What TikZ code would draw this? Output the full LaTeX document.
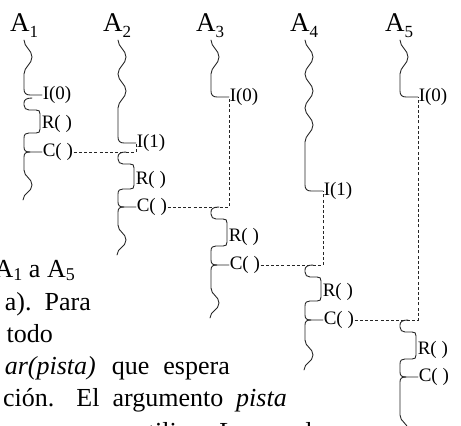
\documentclass[tikz,border=0pt]{standalone}
\usepackage{fontspec}
\setmainfont{Liberation Serif}
\newcommand\sub[3]{\raisebox{#1}{\fontsize{#2}{#2}\selectfont #3}}
% #1 id, #2 x, #3 yI, #4 yS, #5 yR, #6 yC, #7 yE, #8 waves, #9 I label
\newcommand\drawthread[9]{%
  \draw[thr] (#2,40) \foreach \w in {1,...,#8}{ .. controls +(0,7) and +(0,-7) .. ++(8,17) .. controls +(0,7) and +(0,-7) .. ++(-8,17) }
     -- (#2,#3-6) .. controls (#2,#3-2) and (#2+2,#3) .. (#2+6,#3) -- (#2+18,#3) coordinate (it#1);
  \node[ev] (I#1) at (#2+18,#3) {#9};
  \draw[thr] (#2+8,#4) coordinate (top#1) .. controls (#2+2,#4) and (#2,#4+2) .. (#2,#4+5) -- (#2,#4+7)
     .. controls (#2,#4+10) and (#2+2,#4+12) .. (#2+5,#4+12) -- (#2+12,#4+12)
     .. controls (#2+15,#4+12) and (#2+16,#4+13) .. (#2+16,#4+16) -- (#2+16,#5+5)
     .. controls (#2+16,#5+8) and (#2+15,#5+9) .. (#2+12,#5+9) -- (#2+5,#5+9)
     .. controls (#2+2,#5+9) and (#2,#5+10) .. (#2,#5+14) -- (#2,#6-5)
     .. controls (#2,#6-1) and (#2+2,#6) .. (#2+6,#6) -- (#2+18,#6) coordinate (ct#1);
  \node[ev] (R#1) at (#2+17,#5) {R( )};
  \node[ev] (C#1) at (#2+18,#6) {C( )};
  \draw[thr] (#2+6,#6) .. controls (#2+2,#6) and (#2,#6+1) .. (#2,#6+5) -- (#2,#7-30)
     .. controls +(0,7) and +(0,-7) .. ++(8,15) .. controls +(0,7) and +(0,-7) .. (#2-1,#7);
}
\begin{document}
\begin{tikzpicture}[x=1pt,y=-1pt,
  thr/.style={line width=0.9pt, black!85, line cap=round, line join=round},
  msg/.style={line width=0.8pt, black!85, dash pattern=on 3pt off 2.2pt},
  ev/.style={font=\fontsize{19}{21}\selectfont, anchor=west, inner sep=0.6pt},
  ttl/.style={font=\fontsize{27}{30}\selectfont, anchor=base west, inner sep=0pt},
  body/.style={font=\fontsize{26}{30}\selectfont, anchor=base east, inner sep=0pt}]
\useasboundingbox (0,0) rectangle (461,426);
\clip (0,0) rectangle (461,426);

% process titles
\node[ttl] (A1) at (10,31) {A\sub{-6pt}{17}{1}};
\node[ttl] (A2) at (103,31) {A\sub{-6pt}{17}{2}};
\node[ttl] (A3) at (196,31) {A\sub{-6pt}{17}{3}};
\node[ttl] (A4) at (290,31) {A\sub{-6pt}{17}{4}};
\node[ttl] (A5) at (385,31) {A\sub{-6pt}{17}{5}};

% threads
\drawthread{1}{24}{95}{98}{124}{152}{200}{1}{I(0)}
\drawthread{2}{118}{143}{152}{180}{207}{255}{2}{I(1)}
\drawthread{3}{211}{97}{207}{237}{265}{318}{1}{I(0)}
\drawthread{4}{305}{191}{265}{292}{320}{370}{3}{I(1)}
\drawthread{5}{400}{97}{320}{350}{377}{445}{1}{I(0)}

% messages
\coordinate (j2) at (136,152);
\coordinate (j3) at (229,207);
\coordinate (j4) at (323,265);
\coordinate (j5) at (418,320);
\draw[msg] (C1.east) -- (j2) -- (it2);
\draw[msg] (C2.east) -- (j3) -- (it3);
\draw[msg] (C3.east) -- (j4) -- (it4);
\draw[msg] (C4.east) -- (j5) -- (it5);

% surrounding text (cut off)
\node[body] (L1) at (75,277) {A\sub{-3pt}{18}{1} a A\sub{-3pt}{18}{5}};
\node[body] (L2) at (91,310) {a).\ \ Para};
\node[body] (L3) at (53,342) {todo};
\node[body] (L4) at (230,374) {\textit{ar(pista)}\hspace{16pt}que\hspace{14pt}espera};
\node[body] (L5) at (287,406) {ción.\hspace{22pt}El\hspace{13pt}argumento\hspace{13pt}\textit{pista}};
\node[body] (L6) at (312,440) {que se utilice.\ \ Lo que d};
\end{tikzpicture}
\end{document}
